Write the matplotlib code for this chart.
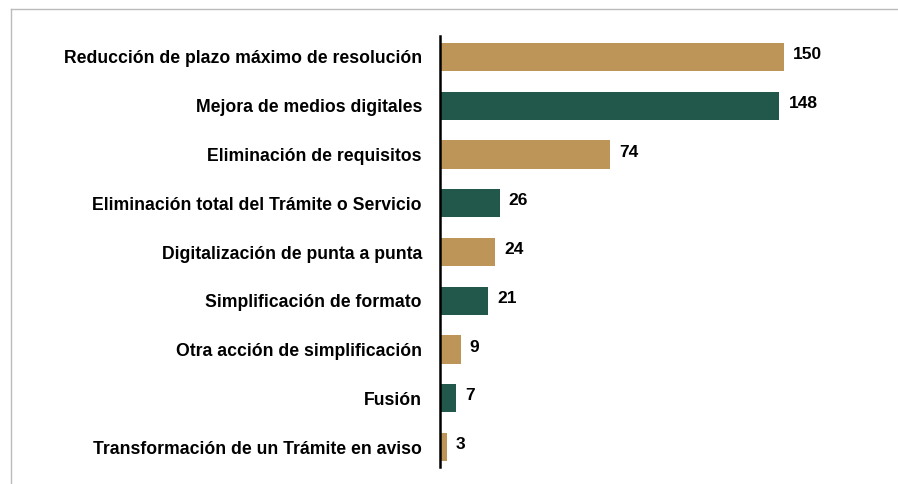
import matplotlib.pyplot as plt
from matplotlib.lines import Line2D

categories = [
    "Reducción de plazo máximo de resolución",
    "Mejora de medios digitales",
    "Eliminación de requisitos",
    "Eliminación total del Trámite o Servicio",
    "Digitalización de punta a punta",
    "Simplificación de formato",
    "Otra acción de simplificación",
    "Fusión",
    "Transformación de un Trámite en aviso",
]
values = [150, 148, 74, 26, 24, 21, 9, 7, 3]

gold = "#BD9558"
green = "#22574B"
colors = [gold if i % 2 == 0 else green for i in range(len(values))]

plt.rcParams["font.family"] = ["Liberation Sans", "DejaVu Sans"]

fig = plt.figure(figsize=(8.98, 4.84), dpi=100)
ax = fig.add_axes([0.49, 0.035, 0.434, 0.8906])

y = list(range(len(categories)))
ax.barh(y, values, height=0.58, color=colors)
ax.set_xlim(0, 170)
ax.set_ylim(8.41, -0.43)

for yi, v in zip(y, values):
    ax.text(v + 4, yi - 0.05, str(v), va="center", ha="left",
            fontsize=12.5, fontweight="bold")

ax.set_yticks(y)
ax.set_yticklabels(categories, fontsize=12.7, fontweight="bold")
ax.tick_params(axis="y", length=0, pad=13)
ax.set_xticks([])
for s in ["top", "right", "bottom"]:
    ax.spines[s].set_visible(False)
ax.spines["left"].set_linewidth(1.8)

# light frame lines at left and top of the picture
fig.add_artist(Line2D([10.5 / 898, 10.5 / 898], [0, 1 - 9 / 484],
                      transform=fig.transFigure, color="#BBBBBB", lw=1))
fig.add_artist(Line2D([10.5 / 898, 1], [1 - 9 / 484, 1 - 9 / 484],
                      transform=fig.transFigure, color="#BBBBBB", lw=1))

fig.savefig("out.png", dpi=100)
